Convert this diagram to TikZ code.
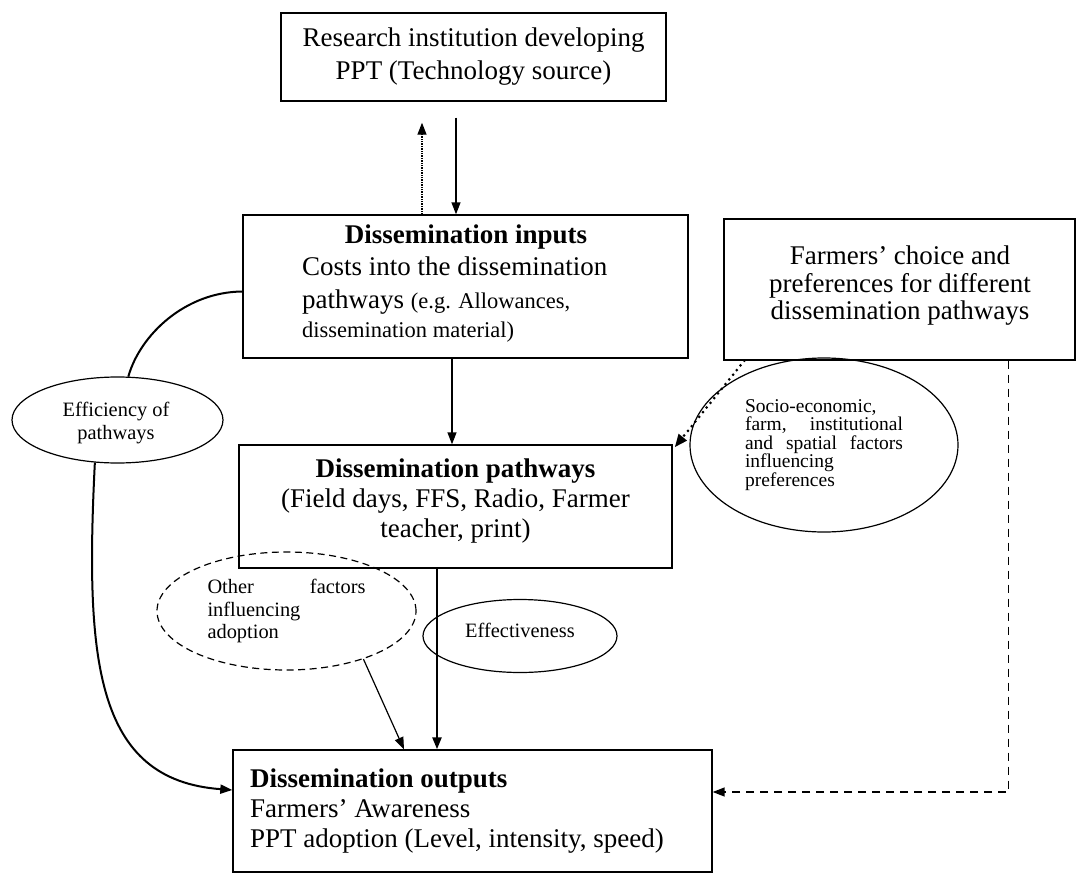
\documentclass[tikz,border=0pt]{standalone}
\usepackage{fontspec}
\setmainfont{Liberation Serif}
\usetikzlibrary{arrows.meta,shapes.geometric}
\begin{document}
\begin{tikzpicture}[x=1pt,y=-1pt,
  box/.style={draw, line width=1.4pt, rectangle, inner sep=0pt},
  ell/.style={draw, ellipse, line width=1.2pt, inner sep=0pt},
  arr/.style={line width=1.4pt, -{Triangle[length=12pt,width=9pt]}},
  big/.style={font=\fontsize{27}{33}\selectfont},
  small/.style={font=\fontsize{20.4}{22.5}\selectfont},
  txt/.style={inner sep=0pt},
]
\fill[white] (0,0) rectangle (1077,875);
\useasboundingbox (0,0) rectangle (1077,875);

% boxes
\node[box, minimum width=385pt, minimum height=88pt, big, align=center] (src) at (473.5,57)
  {Research institution developing\\PPT (Technology source)};

\node[box, minimum width=445pt, minimum height=143pt] (inputs) at (465.5,286.5) {};
\node[txt, big, anchor=base] (inT) at (466,243) {\bfseries Dissemination inputs};
\node[txt, big, anchor=base west] (in1) at (302,275) {Costs into the dissemination};
\node[txt, big, anchor=base west] (in2) at (302,308) {pathways {\fontsize{22.5}{26}\selectfont (e.g. Allowances,}};
\node[txt, anchor=base west, font=\fontsize{22.5}{26}\selectfont] (in3) at (302,337) {dissemination material)};

\node[box, minimum width=351pt, minimum height=141pt] (farm) at (899.5,289.5) {};
\node[txt, font=\fontsize{27}{27.5}\selectfont, align=center] (farmT) at (900,286)
  {Farmers’ choice and\\preferences for different\\dissemination pathways};

\node[box, minimum width=433pt, minimum height=123pt] (path) at (455.5,506.5) {};
\node[txt, font=\fontsize{27}{30}\selectfont, align=center] (pathT) at (455.5,501.5)
  {\textbf{Dissemination pathways}\\(Field days, FFS, Radio, Farmer\\teacher, print)};

\node[box, minimum width=479pt, minimum height=122pt] (out) at (472.5,811) {};
\node[txt, font=\fontsize{27}{30}\selectfont, align=left, anchor=west] (outT) at (250,811.5)
  {\textbf{Dissemination outputs}\\Farmers’ Awareness\\PPT adoption (Level, intensity, speed)};

% ellipses
\node[ell, minimum width=211pt, minimum height=86pt] (eff) at (117.5,420) {};
\node[txt, small, align=center] (effT) at (116,423) {Efficiency of\\pathways};
\node[ell, dash pattern=on 7pt off 4.5pt, minimum width=259pt, minimum height=118pt, small, align=left] (oth) at (286.5,611)
  {\hbox to 158pt{Other\hfill factors}\\influencing\\adoption};
\node[ell, minimum width=194pt, minimum height=73pt] (effect) at (520,636) {};
\node[txt, small, anchor=base] (effectT) at (520,637) {Effectiveness};
\node[ell, minimum width=268pt, minimum height=174pt, font=\fontsize{19.5}{18.5}\selectfont, align=left] (socio) at (824,445)
  {Socio-economic,\\\hbox to 158pt{farm,\hfill institutional}\\\hbox to 158pt{and\hfill spatial\hfill factors}\\influencing\\preferences};

% connectors
\draw[arr, densely dotted, line width=1.3pt, shorten >=21pt] ([xshift=-43.5pt]inputs.north) -- ([xshift=-51.5pt]src.south);
\draw[arr, shorten <=16pt] ([xshift=-17.5pt]src.south) -- ([xshift=-9.5pt]inputs.north);
\draw[arr] ([xshift=-13.5pt]inputs.south) -- ([xshift=-3.5pt]path.north);
\draw[arr, line width=2.4pt] ([xshift=-18.5pt]path.south) -- ([xshift=-35.5pt]out.north);
\draw[arr, line width=1.2pt] (oth.328) -- ([xshift=-68.5pt]out.north);
\draw[line width=3pt, dash pattern=on 0pt off 6pt, line cap=round, -{Triangle[length=13pt,width=10pt]}]
  ([xshift=21pt]farm.south west) -- ([xshift=2pt,yshift=-3pt]path.north east);
\draw[arr, line width=1.5pt, dash pattern=on 8pt off 6pt] ([xshift=-67pt]farm.south east) |- ([yshift=19pt]out.east);
\draw[line width=2pt] ([yshift=-5pt]inputs.west) .. controls (185,292) and (140,335) .. (eff.76);
\draw[line width=2pt, -{Triangle[length=12pt,width=9pt]}] (eff.242) .. controls (85,660) and (95,780) .. ([yshift=21pt]out.west);
\end{tikzpicture}
\end{document}
